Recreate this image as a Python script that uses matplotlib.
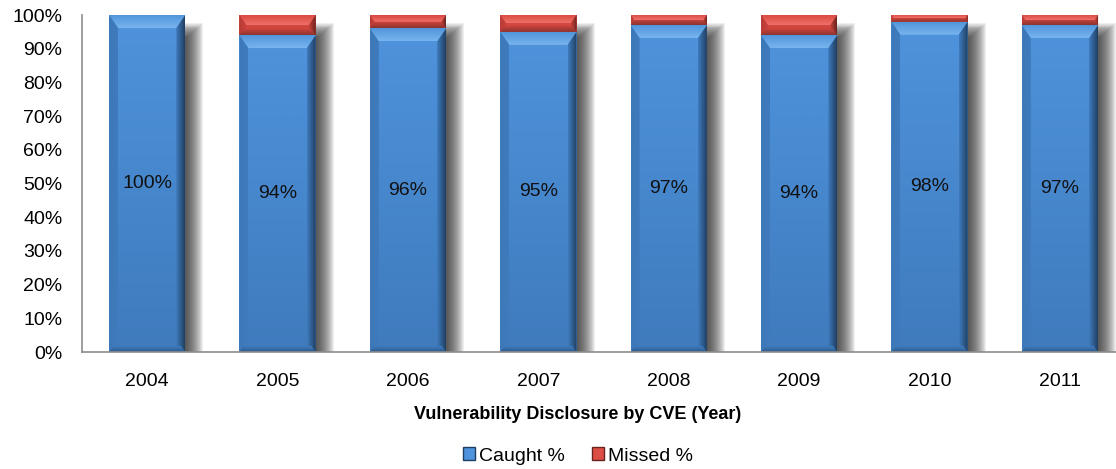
import numpy as np
import matplotlib.pyplot as plt
from matplotlib.patches import Polygon, Rectangle
from matplotlib.colors import LinearSegmentedColormap

plt.rcParams['font.family'] = ['Liberation Sans', 'DejaVu Sans']

years = ['2004', '2005', '2006', '2007', '2008', '2009', '2010', '2011']
caught = [100, 94, 96, 95, 97, 94, 98, 97]
missed = [0, 6, 4, 5, 3, 6, 2, 3]

W, H = 1116, 469
fig = plt.figure(figsize=(W / 100, H / 100), dpi=100)
ax = fig.add_axes([82 / W, 1 - 352 / H, 1 - 82 / W, (352 - 15) / H])
xlim = (-0.5, 7.43)
ylim = (0, 100)
ax.set_xlim(*xlim)
ax.set_ylim(*ylim)

# pixel -> data unit helpers
px_x = (xlim[1] - xlim[0]) / (W - 82)
px_y = (ylim[1] - ylim[0]) / (352 - 15)

x = np.arange(len(years))
blue = dict(top='#4f93dc', bot='#3f7bbd', light='#78b4ee', mid='#5196dc',
            lside='#3d78b8', dark='#1f3f62', bottom='#2c5a8c')
red = dict(top='#dc4d45', bot='#c9423b', light='#ee7068', mid='#d9473f',
           lside='#b83b35', dark='#6a2420', bottom='#8c3430')


def grad_patch(verts, c0, c1, direction, zorder=4):
    # polygon filled with a linear gradient (c0 -> c1)
    poly = Polygon(verts, closed=True, facecolor='none', edgecolor='none')
    ax.add_patch(poly)
    xs = [v[0] for v in verts]
    ys = [v[1] for v in verts]
    g = np.linspace(0, 1, 64)
    arr = g.reshape(-1, 1) if direction == 'v' else g.reshape(1, -1)
    cmap = LinearSegmentedColormap.from_list('g', [c0, c1])
    im = ax.imshow(arr, extent=[min(xs), max(xs), min(ys), max(ys)], aspect='auto',
                   cmap=cmap, origin='lower', zorder=zorder, interpolation='bilinear')
    im.set_clip_path(poly)


def shadow(x0, y0, w, h):
    # soft drop shadow to the right
    n = 18
    for i in range(n):
        s = i * 1.0
        ax.add_patch(Rectangle((x0, y0),
                               w + (18 - s) * px_x,
                               h - 8 * px_y - s * 0.9 * px_y,
                               facecolor='#2a2a2a', edgecolor='none',
                               alpha=0.075, zorder=1))


def bevel(x0, y0, w, h, c):
    if h <= 0:
        return
    x1, y1 = x0 + w, y0 + h
    # body: top colour fading to bottom colour
    grad_patch([(x0, y0), (x1, y0), (x1, y1), (x0, y1)], c['bot'], c['top'], 'v', 3)
    by = min(13 * px_y, h / 2)
    bx = 9 * px_x * by / (13 * px_y)
    bb = min(6 * px_y, h / 2)
    bbx = 9 * px_x * bb / (13 * px_y)
    # top face, lighter towards its inner edge
    grad_patch([(x0, y1), (x1, y1), (x1 - bx, y1 - by), (x0 + bx, y1 - by)],
               c['light'], c['mid'], 'v')
    # left face
    grad_patch([(x0, y0), (x0, y1), (x0 + bx, y1 - by), (x0 + bx, y0 + bb)],
               c['lside'], c['bot'], 'h')
    # right face, darkening towards the outer edge
    grad_patch([(x1, y0), (x1, y1), (x1 - bx, y1 - by), (x1 - bx, y0 + bb)],
               c['bot'], c['dark'], 'h')
    # bottom face
    grad_patch([(x0, y0), (x1, y0), (x1 - bbx, y0 + bb), (x0 + bbx, y0 + bb)],
               c['bottom'], c['bot'], 'v')


bars_c = ax.bar(x, caught, width=0.585, color=blue['top'], zorder=2)
bars_m = ax.bar(x, missed, bottom=caught, width=0.585, color=red['top'], zorder=2)

for rc, rm in zip(bars_c, bars_m):
    shadow(rc.get_x(), rc.get_y(), rc.get_width(), rc.get_height() + rm.get_height())
for bars, col in [(bars_c, blue), (bars_m, red)]:
    for r in bars:
        r.set_visible(False)
        bevel(r.get_x(), r.get_y(), r.get_width(), r.get_height(), col)

for xi, v in zip(x, caught):
    ax.text(xi, v / 2, f'{v}%', ha='center', va='center', fontsize=14,
            color='#111111', zorder=6)

ax.set_xlim(*xlim)
ax.set_ylim(*ylim)
ax.set_xticks(x)
ax.set_xticklabels(years, fontsize=14)
ax.set_yticks(np.arange(0, 101, 10))
ax.set_yticklabels([f'{v}%' for v in range(0, 101, 10)], fontsize=14)
ax.tick_params(axis='x', length=0, pad=15)
ax.tick_params(axis='y', length=0, pad=14)
for s in ['top', 'right']:
    ax.spines[s].set_visible(False)
for s in ['left', 'bottom']:
    ax.spines[s].set_color('#8c8c8c')
    ax.spines[s].set_linewidth(1.2)
    ax.spines[s].set_zorder(7)
ax.set_xlabel('Vulnerability Disclosure by CVE (Year)', fontsize=13,
              fontweight='bold')
ax.xaxis.set_label_coords((578 - 82) / (W - 82), -(54) / (352 - 15))

handles = [Rectangle((0, 0), 1, 1, facecolor=blue['top'], edgecolor=blue['dark']),
           Rectangle((0, 0), 1, 1, facecolor=red['top'], edgecolor=red['dark'])]
fig.legend(handles, ['Caught %', 'Missed %'], loc='center',
           bbox_to_anchor=(578 / W, 1 - 456 / H), ncol=2, frameon=False,
           fontsize=14, handlelength=0.6, handleheight=0.6, handletextpad=0.2,
           columnspacing=1.4)

fig.savefig('out.png', dpi=100)
